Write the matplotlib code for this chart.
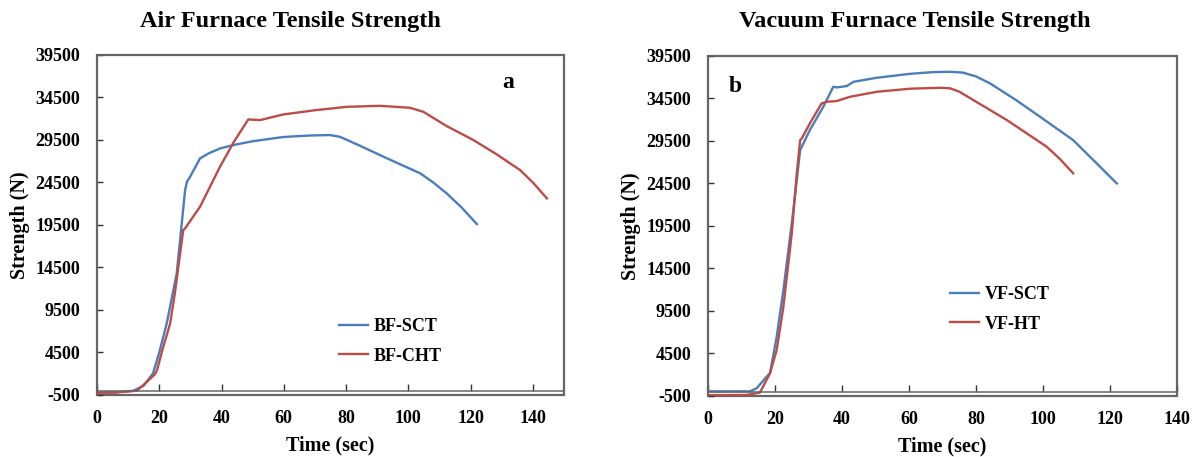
import matplotlib
matplotlib.use("Agg")
import matplotlib.pyplot as plt

# ---- data ----
bf_sct_t = [0, 6, 11.7, 15, 18, 20, 22.4, 25.6, 28.3, 28.9, 29.9, 33.1, 36, 39.5, 43.7, 50, 59.8, 68, 74.8, 78, 84, 90.9, 97, 103.8, 108, 112.3, 117, 122]
bf_sct_s = [-230, -200, 0, 600, 2050, 4500, 7930, 13800, 23600, 24600, 25170, 27340, 27950, 28500, 28900, 29350, 29850, 30020, 30080, 29880, 28900, 27720, 26700, 25580, 24500, 23220, 21600, 19610]

bf_cht_t = [0, 6, 12.8, 14.9, 18.6, 19.3, 21, 23.5, 25, 27.7, 28.3, 33.1, 39.5, 44, 48.6, 52.4, 59.8, 70, 80.2, 90.9, 100.5, 104.8, 112, 120.9, 128, 135.9, 140, 144.5]
bf_cht_s = [-230, -200, 0, 676, 1930, 2440, 4800, 7930, 11460, 18900, 19100, 21650, 26350, 29300, 31920, 31840, 32500, 33000, 33400, 33520, 33290, 32820, 31200, 29490, 27900, 25960, 24500, 22630]

vf_sct_t = [0, 12.5, 14.5, 17.5, 18.5, 20.5, 22.5, 25, 26.5, 27.5, 30.4, 34.4, 37.4, 38.4, 41.4, 43.4, 50.4, 60.3, 67, 72.2, 76, 80, 84.2, 92, 99.1, 109, 116, 122]
vf_sct_s = [50, 50, 400, 1770, 2200, 6470, 11970, 19800, 24900, 28430, 30780, 33520, 35880, 35800, 35960, 36460, 36940, 37400, 37600, 37640, 37550, 37100, 36270, 34300, 32350, 29600, 26870, 24510]

vf_ht_t = [0, 11.5, 15.5, 18.5, 20.5, 22.5, 25, 26.5, 27.5, 28, 30.4, 33.9, 35.4, 38.4, 42.4, 50.4, 60.3, 69.3, 72.2, 75, 79.2, 89.2, 101.1, 105, 109]
vf_ht_s = [-400, -380, -100, 2170, 4910, 10000, 18630, 25690, 29600, 29800, 31570, 33920, 34110, 34200, 34700, 35290, 35650, 35760, 35700, 35300, 34310, 31960, 28820, 27400, 25690]

y_ticks = [-500, 4500, 9500, 14500, 19500, 24500, 29500, 34500, 39500]
x_ticks = [0, 20, 40, 60, 80, 100, 120, 140]

BLUE = "#4A7EBB"
RED = "#BE4B48"
SPINE = "#666666"

plt.rcParams['font.family'] = ['Liberation Serif', 'DejaVu Serif']
plt.rcParams['axes.unicode_minus'] = False

fig = plt.figure(figsize=(11.99, 4.57), dpi=100)
ax1 = fig.add_axes([0.0809, 0.1357, 0.3895, 0.744])
ax2 = fig.add_axes([0.5905, 0.1335, 0.3912, 0.744])


def style(ax, xmax):
    ax.set_xlim(0, xmax)
    ax.set_ylim(-500, 39500)
    ax.set_yticks(y_ticks)
    ax.set_xticks([t for t in x_ticks if t <= xmax])
    ax.spines['bottom'].set_position(('data', 0))
    for s in ax.spines.values():
        s.set_color(SPINE)
        s.set_linewidth(1.1)
    ax.patch.set_edgecolor(SPINE)
    ax.patch.set_linewidth(1.6)
    ax.tick_params(axis='x', direction='in', length=5, width=1, color='#333333',
                   pad=14, labelsize=13)
    ax.tick_params(axis='y', direction='in', length=4, width=1, color='#333333',
                   pad=12, labelsize=13)
    for lab in ax.get_xticklabels() + ax.get_yticklabels():
        lab.set_fontweight('bold')
    ax.set_xlabel('Time (sec)', fontsize=14.5, fontweight='bold', labelpad=6)
    ax.set_ylabel('Strength (N)', fontsize=14.5, fontweight='bold', labelpad=4)


ax1.plot(bf_sct_t, bf_sct_s, color=BLUE, lw=1.7, label='BF-SCT')
ax1.plot(bf_cht_t, bf_cht_s, color=RED, lw=1.7, label='BF-CHT')
style(ax1, 150)
ax1.legend(loc='center left', bbox_to_anchor=(0.518, 0.158), frameon=False,
           prop={'weight': 'bold', 'size': 13}, handlelength=1.6,
           handletextpad=0.3, labelspacing=0.7, borderpad=0, borderaxespad=0)
ax1.text(0.88, 0.92, 'a', transform=ax1.transAxes, fontsize=17,
         fontweight='bold', ha='center', va='center')

ax2.plot(vf_sct_t, vf_sct_s, color=BLUE, lw=1.7, label='VF-SCT')
ax2.plot(vf_ht_t, vf_ht_s, color=RED, lw=1.7, label='VF-HT')
style(ax2, 140)
ax2.legend(loc='center left', bbox_to_anchor=(0.516, 0.255), frameon=False,
           prop={'weight': 'bold', 'size': 13}, handlelength=1.6,
           handletextpad=0.3, labelspacing=0.7, borderpad=0, borderaxespad=0)
ax2.text(0.058, 0.909, 'b', transform=ax2.transAxes, fontsize=17,
         fontweight='bold', ha='center', va='center')

fig.text(290 / 1199, 1 - 22 / 457, 'Air Furnace Tensile Strength', fontsize=17.5,
         fontweight='bold', ha='center', va='center')
fig.text(915 / 1199, 1 - 22 / 457, 'Vacuum Furnace Tensile Strength', fontsize=17.5,
         fontweight='bold', ha='center', va='center')

fig.savefig('out.png', dpi=100)
